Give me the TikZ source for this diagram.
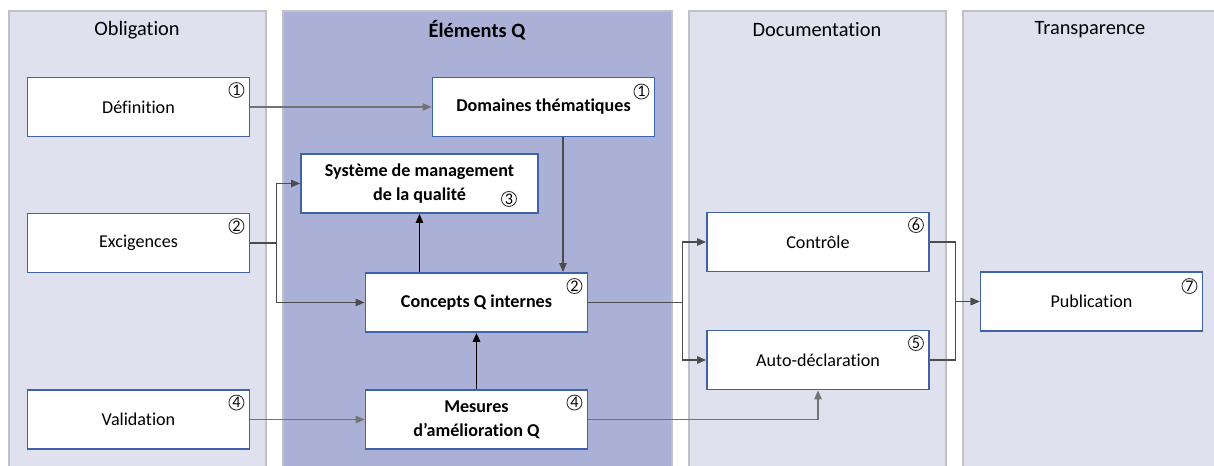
\documentclass[tikz,border=0pt]{standalone}
\usepackage{fontspec}
\setmainfont{Carlito}[Ligatures=NoCommon]
\usetikzlibrary{arrows.meta}
\definecolor{lanelight}{RGB}{223,225,239}
\definecolor{lanedark}{RGB}{171,177,214}
\definecolor{laneline}{RGB}{192,192,198}
\definecolor{boxline}{RGB}{64,98,170}

\begin{document}
\begin{tikzpicture}
      [x=0.02cm, y=-0.02cm,
       laneedge/.style={draw=laneline, line width=0.6pt},
       title/.style={font=\fontsize{11.6}{14}\selectfont},
       task/.style={
           rectangle,
           draw=boxline, line width=1.1pt,
           fill=white,
           minimum width=4.44cm, minimum height=1.18cm,
           text centered, align=center,
           font=\fontsize{10.3}{13.5}\selectfont
         },
       qtask/.style={task, font=\fontsize{10.3}{13.5}\selectfont\bfseries},
       num/.style={
           circle, draw=black!80, line width=0.5pt,
           minimum size=0.3cm, inner sep=0pt,
           font=\fontsize{9.2}{9}\selectfont
         },
       flow/.style={draw=black!70, line width=0.6pt,
           -{Triangle[length=1.8mm,width=1.5mm]}},
       ]
    \useasboundingbox (0,0) rectangle (1214,466);

    \fill [lanelight] (9,11) rectangle (266,466);
    \draw [laneedge] (9,466) -- (9,11) -- (266,11) -- (266,466);
    \fill [lanedark] (283,11) rectangle (672,466);
    \draw [laneedge] (283,466) -- (283,11) -- (672,11) -- (672,466);
    \fill [lanelight] (689,11) rectangle (946,466);
    \draw [laneedge] (689,466) -- (689,11) -- (946,11) -- (946,466);
    \fill [lanelight] (963,11) rectangle (1214,466);
    \draw [laneedge] (963,466) -- (963,11) -- (1214,11);

    \node [title] (obl) at (137,30) {Obligation};
    \node [title, font=\fontsize{11.6}{14}\selectfont\bfseries] (elq) at (477,30) {Éléments Q};
    \node [title] (doc) at (817,30) {Documentation};
    \node [title] (tra) at (1090,30) {Transparence};

    \node [task] (def) at (138.5,107) {Définition};
    \node [task] (exi) at (138.5,243) {Excigences};
    \node [task] (val) at (138.5,419.5) {Validation};

    \node [qtask] (dom) at (543.5,107) {Domaines thématiques};
    \node [qtask, minimum width=4.74cm] (sys) at (419.5,183.5) {Système de management\\de la qualité};
    \node [qtask] (con) at (476.5,302.5) {Concepts Q internes};
    \node [qtask] (mes) at (476.5,419.5) {Mesures\\d’amélioration Q};

    \node [task] (ctl) at (818,242) {Contrôle};
    \node [task] (auto) at (818,360) {Auto-déclaration};
    \node [task] (pub) at (1091.5,301.5) {Publication};

    \node [num] (def-n) at ([xshift=-0.28cm, yshift=-0.27cm]def.north east) {1};
    \node [num] (exi-n) at ([xshift=-0.28cm, yshift=-0.27cm]exi.north east) {2};
    \node [num] (val-n) at ([xshift=-0.28cm, yshift=-0.27cm]val.north east) {4};
    \node [num] (dom-n) at ([xshift=-0.28cm, yshift=-0.3cm]dom.north east) {1};
    \node [num] (sys-n) at ([xshift=-0.6cm, yshift=0.3cm]sys.south east) {3};
    \node [num] (con-n) at ([xshift=-0.28cm, yshift=-0.28cm]con.north east) {2};
    \node [num] (mes-n) at ([xshift=-0.28cm, yshift=-0.27cm]mes.north east) {4};
    \node [num] (ctl-n) at ([xshift=-0.28cm, yshift=-0.27cm]ctl.north east) {6};
    \node [num] (auto-n) at ([xshift=-0.28cm, yshift=-0.27cm]auto.north east) {5};
    \node [num] (pub-n) at ([xshift=-0.28cm, yshift=-0.3cm]pub.north east) {7};

    \path (def) edge [flow, draw=black!55] (dom);
    \path (val) edge [flow, draw=black!55] (mes);
    \draw [flow] (exi.east) -- ++(26,0) |- (sys.west);
    \draw [flow] (exi.east) -- ++(26,0) |- (con.west);
    \draw [flow] ([xshift=0.39cm]dom.south) -- ([xshift=0.39cm]dom.south |- con.north);
    \draw [flow, draw=black] (sys.south |- con.north) -- (sys.south);
    \path (mes) edge [flow, draw=black, line width=1.1pt] (con);
    \draw [flow, draw=black!55] (mes.east) -| (auto.south);
    \draw [flow] (con.east) -- ++(94,0) |- (ctl.west);
    \draw [flow] (con.east) -- ++(94,0) |- (auto.west);
    \draw [flow] (ctl.east) -- ++(26,0) |- (pub.west);
    \draw [flow] (auto.east) -- ++(26,0) |- (pub.west);

  \end{tikzpicture}
\end{document}
